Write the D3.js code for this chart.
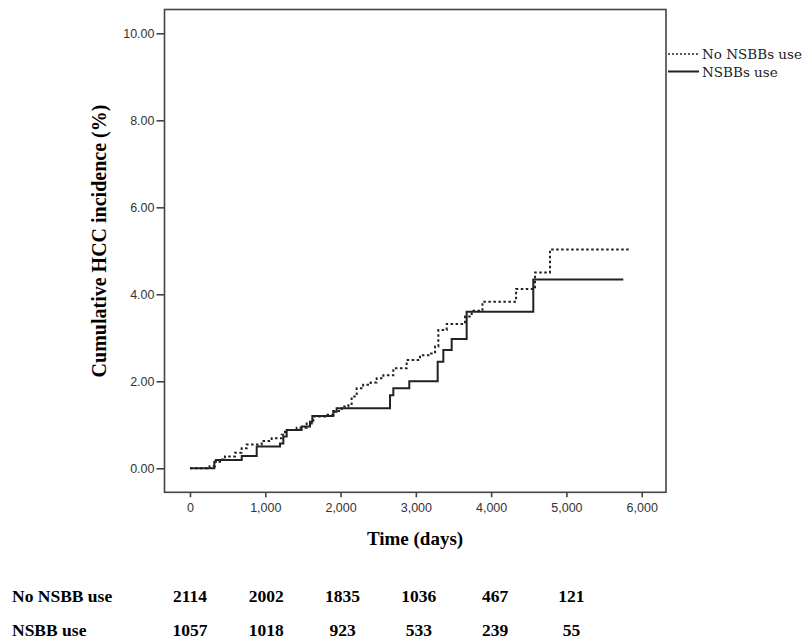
<!DOCTYPE html>
<html><head>
<meta charset="utf-8">
<title>Cumulative HCC incidence</title>
<script src="https://d3js.org/d3.v7.min.js"></script>
<style>
  body { margin: 0; background: #fff; }
  .tick text { font-family: "Liberation Sans", Arial, sans-serif; fill: #333; }
</style>
</head>
<body>
<div id="chart"></div>
<script>
// Step points: [days, cumulative %]
const noNsbb = [[0,0],[222,0.02],[260,0.05],[332,0.15],[400,0.2],[465,0.27],[598,0.36],[686,0.46],[753,0.55],
  [952,0.63],[1085,0.69],[1218,0.77],[1262,0.88],[1417,0.93],[1550,1.03],[1638,1.19],[1793,1.23],[1904,1.32],
  [2014,1.42],[2103,1.45],[2147,1.65],[2214,1.84],[2300,1.92],[2400,1.97],[2480,2.07],[2568,2.14],[2701,2.30],
  [2878,2.49],[3055,2.60],[3188,2.64],[3255,2.80],[3299,3.18],[3410,3.32],[3653,3.49],[3742,3.62],[3885,3.83],
  [4331,4.12],[4583,4.50],[4782,5.03],[5845,5.03]];
const nsbb = [[0,0],[323,0.15],[345,0.19],[687,0.28],[886,0.50],[1196,0.57],[1240,0.73],[1284,0.88],[1483,0.96],
  [1594,1.07],[1625,1.20],[1904,1.30],[1948,1.38],[2657,1.68],[2701,1.84],[2913,2.0],[3290,2.45],[3365,2.72],
  [3476,2.97],[3675,3.60],[4560,4.34],[5756,4.34]];

const xTicks = [0, 1000, 2000, 3000, 4000, 5000, 6000];
const yTicks = [0, 2, 4, 6, 8, 10];
const legendLabels = ["No NSBBs use", "NSBBs use"];

// numbers at risk
const riskTimes = [0, 1000, 2000, 3000, 4000, 5000];
const riskLabels = ["No NSBB use", "NSBB use"];
const riskNo = [2114, 2002, 1835, 1036, 467, 121];
const riskYes = [1057, 1018, 923, 533, 239, 55];

const width = 809, height = 641;
const frame = { left: 164.5, top: 9.5, right: 666, bottom: 492.3 };

const svg = d3.select("#chart").append("svg")
  .attr("width", width).attr("height", height);

const x = d3.scaleLinear().domain([0, 6000]).range([190, 641.7]);
const y = d3.scaleLinear().domain([0, 10]).range([468.3, 33.3]);

// frame box
svg.append("rect")
  .attr("x", frame.left).attr("y", frame.top)
  .attr("width", frame.right - frame.left).attr("height", frame.bottom - frame.top)
  .attr("fill", "none").attr("stroke", "#444").attr("stroke-width", 1.6);

// axes
const xAxis = svg.append("g").attr("transform", "translate(0," + frame.bottom + ")")
  .call(d3.axisBottom(x).tickValues(xTicks).tickFormat(d3.format(",")).tickSize(5).tickPadding(6));
const yAxis = svg.append("g").attr("transform", "translate(" + frame.left + ",0)")
  .call(d3.axisLeft(y).tickValues(yTicks).tickFormat(d3.format(".2f")).tickSize(8).tickPadding(2));
[xAxis, yAxis].forEach(g => {
  g.select(".domain").remove();
  g.selectAll(".tick line").attr("stroke", "#444").attr("stroke-width", 1.6);
  g.selectAll(".tick text").style("font-size", "12.5px");
});

// axis titles
svg.append("text")
  .attr("transform", "translate(106,241) rotate(-90)")
  .attr("text-anchor", "middle")
  .style("font-family", "'Liberation Serif', 'Times New Roman', serif")
  .style("font-weight", "bold").style("font-size", "20px")
  .text("Cumulative HCC incidence (%)");

svg.append("text")
  .attr("x", 415).attr("y", 545)
  .attr("text-anchor", "middle")
  .style("font-family", "'Liberation Serif', 'Times New Roman', serif")
  .style("font-weight", "bold").style("font-size", "19px")
  .text("Time (days)");

// curves
const line = d3.line().x(d => x(d[0])).y(d => y(d[1])).curve(d3.curveStepAfter);

svg.append("path").datum(noNsbb)
  .attr("d", line).attr("fill", "none")
  .attr("stroke", "#222").attr("stroke-width", 2)
  .attr("stroke-dasharray", "2.5,2.5");

svg.append("path").datum(nsbb)
  .attr("d", line).attr("fill", "none")
  .attr("stroke", "#222").attr("stroke-width", 2);

// legend
const legend = svg.append("g").attr("transform", "translate(668,0)");
legendLabels.forEach((lab, i) => {
  const ly = 54 + i * 17.5;
  legend.append("line")
    .attr("x1", 0).attr("x2", 31).attr("y1", ly).attr("y2", ly)
    .attr("stroke", "#222").attr("stroke-width", i === 0 ? 1.6 : 2)
    .attr("stroke-dasharray", i === 0 ? "2,2" : null);
  legend.append("text")
    .attr("x", 34).attr("y", ly + 5)
    .style("font-family", "'DejaVu Serif', serif")
    .style("font-size", "13.5px").style("fill", "#222")
    .text(lab);
});

// numbers at risk table
const riskRows = [riskNo, riskYes];
riskRows.forEach((row, r) => {
  const by = 602 + r * 33.5;
  svg.append("text")
    .attr("x", 12).attr("y", by)
    .style("font-family", "'Liberation Serif', 'Times New Roman', serif")
    .style("font-weight", "bold").style("font-size", "17.5px")
    .text(riskLabels[r]);
  svg.selectAll(null).data(row).enter().append("text")
    .attr("x", (d, i) => x(riskTimes[i]) + i)
    .attr("y", by)
    .attr("text-anchor", "middle")
    .style("font-family", "'Liberation Serif', 'Times New Roman', serif")
    .style("font-weight", "bold").style("font-size", "17.5px")
    .text(d => d);
});
</script>
</body>
</html>
